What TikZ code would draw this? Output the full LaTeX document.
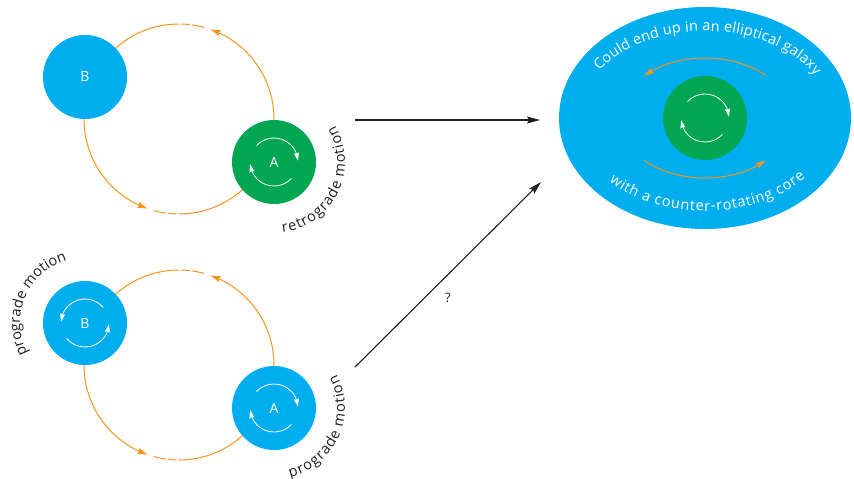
\documentclass[tikz,border=0pt]{standalone}
\usepackage{fontspec}
\setmainfont{Open Sans}
\usetikzlibrary{shapes.geometric,arrows.meta,decorations.text,bending}

\definecolor{cyanP}{RGB}{0,174,239}
\definecolor{greenP}{RGB}{0,166,81}
\definecolor{orangeP}{RGB}{247,148,29}
\definecolor{darkP}{RGB}{35,31,32}

\newcommand\sidefont{\fontsize{14.5}{16}\selectfont}
\newcommand\galfont{\fontsize{14.5}{16}\selectfont}

% clockwise spin arrows (screen) around a node
\newcommand\spincw[1]{%
  \draw[spin] ([shift={(137:24pt)}]#1.center) arc[start angle=137,end angle=3,radius=24pt];
  \draw[spin] ([shift={(-43:24pt)}]#1.center) arc[start angle=-43,end angle=-175,radius=24pt];}
% counter-clockwise spin arrows
\newcommand\spinccw[1]{%
  \draw[spin] ([shift={(40:24pt)}]#1.center) arc[start angle=40,end angle=177,radius=24pt];
  \draw[spin] ([shift={(220:24pt)}]#1.center) arc[start angle=220,end angle=357,radius=24pt];}
% orbit with faded segments
\newcommand\orbitring[1]{%
  \draw[orbit,otip] ([shift={(90:95pt)}]#1) arc[start angle=90,end angle=250.5,radius=95pt];
  \draw[orbit] ([shift={(254.5:95pt)}]#1) arc[start angle=254.5,end angle=262,radius=95pt];
  \draw[orbit] ([shift={(263.5:95pt)}]#1) arc[start angle=263.5,end angle=268.5,radius=95pt];
  \draw[orbit,otip] ([shift={(270:95pt)}]#1) arc[start angle=270,end angle=430.5,radius=95pt];
  \draw[orbit] ([shift={(74.5:95pt)}]#1) arc[start angle=74.5,end angle=82,radius=95pt];
  \draw[orbit] ([shift={(83.5:95pt)}]#1) arc[start angle=83.5,end angle=88.5,radius=95pt];}

\begin{document}
\begin{tikzpicture}[x=1pt,y=1pt,
  body/.style={circle, minimum size=84pt, inner sep=0pt, text=white, font=\fontsize{14}{16}\selectfont},
  orbit/.style={draw=orangeP, line width=1pt},
  otip/.style={-{Stealth[length=10pt,width=6pt,inset=1.5pt,flex]}},
  spin/.style={draw=white, line width=0.8pt, -{Stealth[length=8pt,width=5pt,inset=1pt,flex]}},
  link/.style={draw=darkP, line width=1.1pt, -{Stealth[length=13pt,width=7pt,inset=2pt]}},
]
\useasboundingbox (0,0) rectangle (854,-479);

% orbit centres
\coordinate (O1) at (179,-119);
\coordinate (O2) at (179,-365);

\orbitring{O1}
\orbitring{O2}

% bodies
\node[body, fill=cyanP] (B1) at (85,-77) {B};
\node[body, fill=greenP] (A1) at (274,-162) {A};
\node[body, fill=cyanP] (B2) at (85,-323) {B};
\node[body, fill=cyanP] (A2) at (274,-408) {A};

\spincw{A1}
\spincw{A2}
\spinccw{B2}

% side labels
\path[decorate, decoration={text along path, text color=darkP,
      text={|\sidefont|retrograde motion}, text align={fit to path}}]
  ([shift={(-83:71pt)}]A1.center) arc[start angle=-83,end angle=31,radius=71pt];
\path[decorate, decoration={text along path, text color=darkP,
      text={|\sidefont|prograde motion}, text align={fit to path}}]
  ([shift={(-77:71pt)}]A2.center) arc[start angle=-77,end angle=28,radius=71pt];
\path[decorate, decoration={text along path, text color=darkP,
      text={|\sidefont|prograde motion}, text align={fit to path}}]
  ([shift={(208:65pt)}]B2.center) arc[start angle=208,end angle=106,radius=65pt];

% galaxy
\node[ellipse, fill=cyanP, minimum width=292pt, minimum height=222pt, inner sep=0pt] (gal) at (705,-118) {};
\node[body, fill=greenP] (core) at (705,-118) {};
\spincw{core}
\draw[orbit,otip] ([shift={(45:86pt and 60pt)}]core.center) arc[start angle=45,end angle=135,x radius=86pt,y radius=60pt];
\draw[orbit,otip] ([shift={(225:86pt and 60pt)}]core.center) arc[start angle=225,end angle=315,x radius=86pt,y radius=60pt];

\path[decorate, decoration={text along path, text color=white,
      text={|\galfont|Could end up in an elliptical galaxy}, text align={fit to path}}]
  ([shift={(147:126pt and 87pt)}]gal.center) arc[start angle=147,end angle=29,x radius=126pt,y radius=87pt];
\path[decorate, decoration={text along path, text color=white,
      text={|\galfont|with a counter-rotating core}, text align={fit to path}}]
  ([shift={(223:131pt and 93pt)}]gal.center) arc[start angle=223,end angle=320,x radius=131pt,y radius=93pt];

% connectors
\coordinate (s1) at (355,-120);
\coordinate (t1) at (540,-120);
\coordinate (s2) at (355,-367);
\coordinate (t2) at (541,-182);
\draw[link] (s1) -- (t1);
\draw[link] (s2) -- (t2);
\node[text=darkP, font=\fontsize{13}{15}\selectfont] (q) at (448,-298) {?};
\end{tikzpicture}
\end{document}
